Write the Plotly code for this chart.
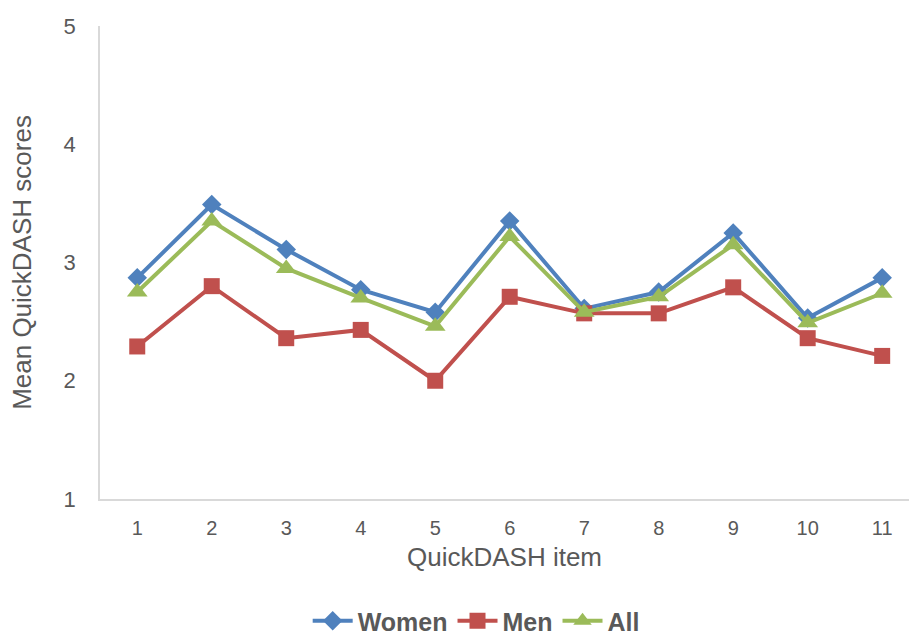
import plotly.graph_objects as go

items = [1, 2, 3, 4, 5, 6, 7, 8, 9, 10, 11]
women = [2.87, 3.49, 3.11, 2.77, 2.58, 3.35, 2.61, 2.75, 3.25, 2.53, 2.87]
men = [2.29, 2.80, 2.36, 2.43, 2.00, 2.71, 2.57, 2.57, 2.79, 2.36, 2.21]
all_ = [2.75, 3.35, 2.95, 2.70, 2.46, 3.22, 2.58, 2.71, 3.15, 2.49, 2.74]

series = [
    ("Women", women, "#4F81BD", "diamond", 15),
    ("Men", men, "#C0504D", "square", 16),
    ("All", all_, "#9BBB59", "triangle-up", 18),
]

fig = go.Figure()
for name, vals, color, symbol, size in series:
    fig.add_trace(go.Scatter(
        x=items, y=vals, name=name, mode="lines+markers",
        line=dict(color=color, width=4),
        marker=dict(symbol=symbol, size=size, color=color),
    ))

text_font = "Liberation Sans, Arial, sans-serif"
grey = "#595959"

fig.update_layout(
    width=909, height=644,
    margin=dict(l=100, r=0, t=26, b=145, autoexpand=False),
    paper_bgcolor="white", plot_bgcolor="white",
    font=dict(family=text_font, color=grey),
    showlegend=True,
    legend=dict(
        orientation="h", x=0.465, xanchor="center",
        yref="container", y=0.0, yanchor="bottom",
        font=dict(size=25, color=grey, family=text_font, weight="bold"),
        itemwidth=40, tracegroupgap=0,
    ),
    xaxis=dict(
        range=[0.5, 11.36], tickmode="array", tickvals=items,
        ticktext=[str(i) for i in items],
        showgrid=False, zeroline=False, automargin=False,
        showline=True, linecolor="#D9D9D9", linewidth=1.5,
        ticks="", tickfont=dict(size=20, color=grey),
        ticklabelstandoff=10,
        title=dict(text="QuickDASH item", font=dict(size=26, color=grey), standoff=10),
    ),
    yaxis=dict(
        range=[1, 5], tickvals=[1, 2, 3, 4, 5],
        showgrid=False, zeroline=False, automargin=False,
        showline=True, linecolor="#D9D9D9", linewidth=1.5,
        ticks="", tickfont=dict(size=22, color=grey),
        ticklabelstandoff=18,
        title=dict(text="Mean QuickDASH scores", font=dict(size=26, color=grey), standoff=24),
    ),
)

fig.write_html("out.html")
